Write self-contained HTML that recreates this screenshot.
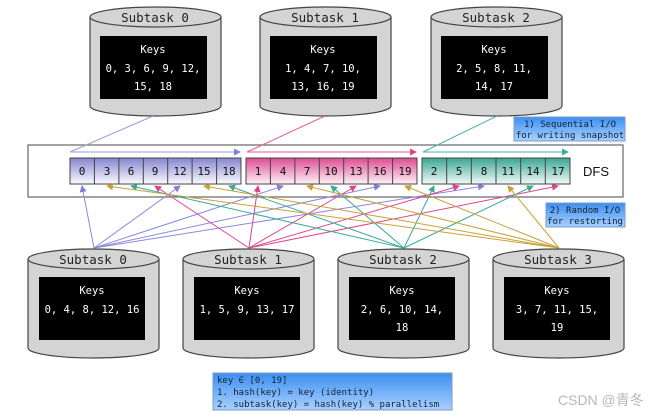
<!DOCTYPE html>
<html><head><meta charset="utf-8"><style>
body{margin:0;background:#fff;width:655px;height:419px;overflow:hidden}
svg{display:block}
text{font-family:"DejaVu Sans Mono","Liberation Mono",monospace}
</style></head><body>
<svg width="655" height="419" viewBox="0 0 655 419" xmlns="http://www.w3.org/2000/svg">
<defs>
<linearGradient id="gb" x1="0" y1="0" x2="0" y2="1"><stop offset="0" stop-color="#8585cf"/><stop offset="1" stop-color="#fbfbff"/></linearGradient>
<linearGradient id="gp" x1="0" y1="0" x2="0" y2="1"><stop offset="0" stop-color="#dd4c92"/><stop offset="1" stop-color="#fdf3f8"/></linearGradient>
<linearGradient id="gt" x1="0" y1="0" x2="0" y2="1"><stop offset="0" stop-color="#3aa593"/><stop offset="1" stop-color="#f3fbf9"/></linearGradient>
<linearGradient id="gl" x1="0" y1="0" x2="0" y2="1"><stop offset="0" stop-color="#3d8ff0"/><stop offset="1" stop-color="#a9d0ff"/></linearGradient>
<marker id="mb" markerWidth="7" markerHeight="7" refX="6" refY="3.5" orient="auto" markerUnits="userSpaceOnUse"><path d="M0,0 L7,3.5 L0,7 z" fill="#8080d8"/></marker>
<marker id="mp" markerWidth="7" markerHeight="7" refX="6" refY="3.5" orient="auto" markerUnits="userSpaceOnUse"><path d="M0,0 L7,3.5 L0,7 z" fill="#e0428c"/></marker>
<marker id="mt" markerWidth="7" markerHeight="7" refX="6" refY="3.5" orient="auto" markerUnits="userSpaceOnUse"><path d="M0,0 L7,3.5 L0,7 z" fill="#3aab9a"/></marker>
<marker id="mg" markerWidth="7" markerHeight="7" refX="6" refY="3.5" orient="auto" markerUnits="userSpaceOnUse"><path d="M0,0 L7,3.5 L0,7 z" fill="#c9a03a"/></marker>
<g id="cyl">
<path d="M0,10 L0,99 A65.5,10 0 0 0 131,99 L131,10" fill="#d4d4d4" stroke="#444" stroke-width="1.2"/>
<ellipse cx="65.5" cy="10" rx="65.5" ry="10" fill="#d4d4d4" stroke="#444" stroke-width="1.2"/>
</g>
</defs>

<use href="#cyl" x="90" y="7"/>
<use href="#cyl" x="260" y="7"/>
<use href="#cyl" x="431" y="7"/>
<g font-size="12.5" text-anchor="middle" fill="#222">
<text x="155" y="22">Subtask 0</text><text x="325" y="22">Subtask 1</text><text x="496" y="22">Subtask 2</text>
</g>
<rect x="100" y="36" width="107" height="63" fill="#000"/>
<rect x="270" y="36" width="107" height="63" fill="#000"/>
<rect x="441" y="36" width="107" height="63" fill="#000"/>
<g font-size="10.5" text-anchor="middle" fill="#fff">
<text x="153" y="53">Keys</text><text x="153" y="72">0, 3, 6, 9, 12,</text><text x="153" y="90">15, 18</text>
<text x="323" y="53">Keys</text><text x="323" y="72">1, 4, 7, 10,</text><text x="323" y="90">13, 16, 19</text>
<text x="494" y="53">Keys</text><text x="494" y="72">2, 5, 8, 11,</text><text x="494" y="90">14, 17</text>
</g>

<rect x="514" y="117" width="111" height="24" fill="url(#gl)" stroke="#7a9cc8"/>
<g font-size="9" fill="#123" text-anchor="middle"><text x="570" y="127">1) Sequential I/O</text><text x="570" y="138">for writing snapshot</text></g>

<rect x="28" y="145" width="595" height="52" fill="#fff" stroke="#666" stroke-width="1.2"/>
<text x="596" y="176" font-size="13" text-anchor="middle" fill="#111" style="font-family:'Liberation Sans',sans-serif">DFS</text>

<g fill="none" stroke-width="1">
<line x1="153" y1="116" x2="70" y2="152" stroke="#9a9ae0"/>
<line x1="70" y1="152" x2="240" y2="152" stroke="#9a9ae0" marker-end="url(#mb)"/>
<line x1="325" y1="116" x2="247" y2="152" stroke="#e55a9a"/>
<line x1="247" y1="152" x2="416" y2="152" stroke="#e55a9a" marker-end="url(#mp)"/>
<line x1="497" y1="116" x2="423" y2="152" stroke="#4cb4a3"/>
<line x1="423" y1="152" x2="568" y2="152" stroke="#4cb4a3" marker-end="url(#mt)"/>
</g>

<g stroke="#444" stroke-width="1">
<rect x="70" y="158" width="171" height="26" fill="url(#gb)"/>
<rect x="246" y="158" width="171" height="26" fill="url(#gp)"/>
<rect x="422" y="158" width="148" height="26" fill="url(#gt)"/>
<path d="M94.4,158v26M118.9,158v26M143.3,158v26M167.7,158v26M192.1,158v26M216.6,158v26M270.4,158v26M294.9,158v26M319.3,158v26M343.7,158v26M368.1,158v26M392.6,158v26M446.7,158v26M471.3,158v26M496,158v26M520.7,158v26M545.3,158v26"/>
</g>
<g font-size="11" text-anchor="middle" fill="#111">
<text x="82" y="175">0</text><text x="107" y="175">3</text><text x="131" y="175">6</text><text x="155" y="175">9</text><text x="180" y="175">12</text><text x="204" y="175">15</text><text x="229" y="175">18</text>
<text x="258" y="175">1</text><text x="283" y="175">4</text><text x="307" y="175">7</text><text x="331" y="175">10</text><text x="356" y="175">13</text><text x="380" y="175">16</text><text x="405" y="175">19</text>
<text x="434" y="175">2</text><text x="459" y="175">5</text><text x="484" y="175">8</text><text x="508" y="175">11</text><text x="533" y="175">14</text><text x="558" y="175">17</text>
</g>

<g stroke-width="1" fill="none">
<g stroke="#8a8ae0" marker-end="url(#mb)">
<line x1="94" y1="248" x2="82" y2="186"/><line x1="94" y1="248" x2="283" y2="186"/><line x1="94" y1="248" x2="484" y2="186"/><line x1="94" y1="248" x2="180" y2="186"/><line x1="94" y1="248" x2="380" y2="186"/>
</g>
<g stroke="#e0428c" marker-end="url(#mp)">
<line x1="249" y1="248" x2="258" y2="186"/><line x1="249" y1="248" x2="459" y2="186"/><line x1="249" y1="248" x2="155" y2="186"/><line x1="249" y1="248" x2="356" y2="186"/><line x1="249" y1="248" x2="558" y2="186"/>
</g>
<g stroke="#3aab9a" marker-end="url(#mt)">
<line x1="404" y1="248" x2="434" y2="186"/><line x1="404" y1="248" x2="131" y2="186"/><line x1="404" y1="248" x2="331" y2="186"/><line x1="404" y1="248" x2="533" y2="186"/><line x1="404" y1="248" x2="229" y2="186"/>
</g>
<g stroke="#c9a03a" marker-end="url(#mg)">
<line x1="559" y1="248" x2="107" y2="186"/><line x1="559" y1="248" x2="307" y2="186"/><line x1="559" y1="248" x2="508" y2="186"/><line x1="559" y1="248" x2="204" y2="186"/><line x1="559" y1="248" x2="405" y2="186"/>
</g>
</g>

<rect x="546" y="203" width="79" height="24" fill="url(#gl)" stroke="#7a9cc8"/>
<g font-size="9" fill="#123" text-anchor="middle"><text x="585" y="213">2) Random I/O</text><text x="585" y="224">for restorting</text></g>

<use href="#cyl" x="28" y="249"/>
<use href="#cyl" x="183" y="249"/>
<use href="#cyl" x="338" y="249"/>
<use href="#cyl" x="493" y="249"/>
<g font-size="12.5" text-anchor="middle" fill="#222">
<text x="93" y="264">Subtask 0</text><text x="248" y="264">Subtask 1</text><text x="403" y="264">Subtask 2</text><text x="558" y="264">Subtask 3</text>
</g>
<rect x="39" y="277" width="106" height="63" fill="#000"/>
<rect x="194" y="277" width="106" height="63" fill="#000"/>
<rect x="349" y="277" width="106" height="63" fill="#000"/>
<rect x="504" y="277" width="106" height="63" fill="#000"/>
<g font-size="10.5" text-anchor="middle" fill="#fff">
<text x="92" y="294">Keys</text><text x="92" y="313">0, 4, 8, 12, 16</text>
<text x="247" y="294">Keys</text><text x="247" y="313">1, 5, 9, 13, 17</text>
<text x="402" y="294">Keys</text><text x="402" y="313">2, 6, 10, 14,</text><text x="402" y="331">18</text>
<text x="557" y="294">Keys</text><text x="557" y="313">3, 7, 11, 15,</text><text x="557" y="331">19</text>
</g>

<rect x="213" y="373" width="239" height="37" fill="url(#gl)" stroke="#7a9cc8"/>
<g font-size="9" fill="#123"><text x="217" y="383">key ∈ [0, 19]</text><text x="217" y="395">1. hash(key) = key (identity)</text><text x="217" y="407">2. subtask(key) = hash(key) % parallelism</text></g>

<text x="558" y="405" font-size="14" fill="#b8b8b8" style="font-family:'Liberation Sans','Noto Sans CJK SC',sans-serif">CSDN @青冬</text>
</svg>
</body></html>
